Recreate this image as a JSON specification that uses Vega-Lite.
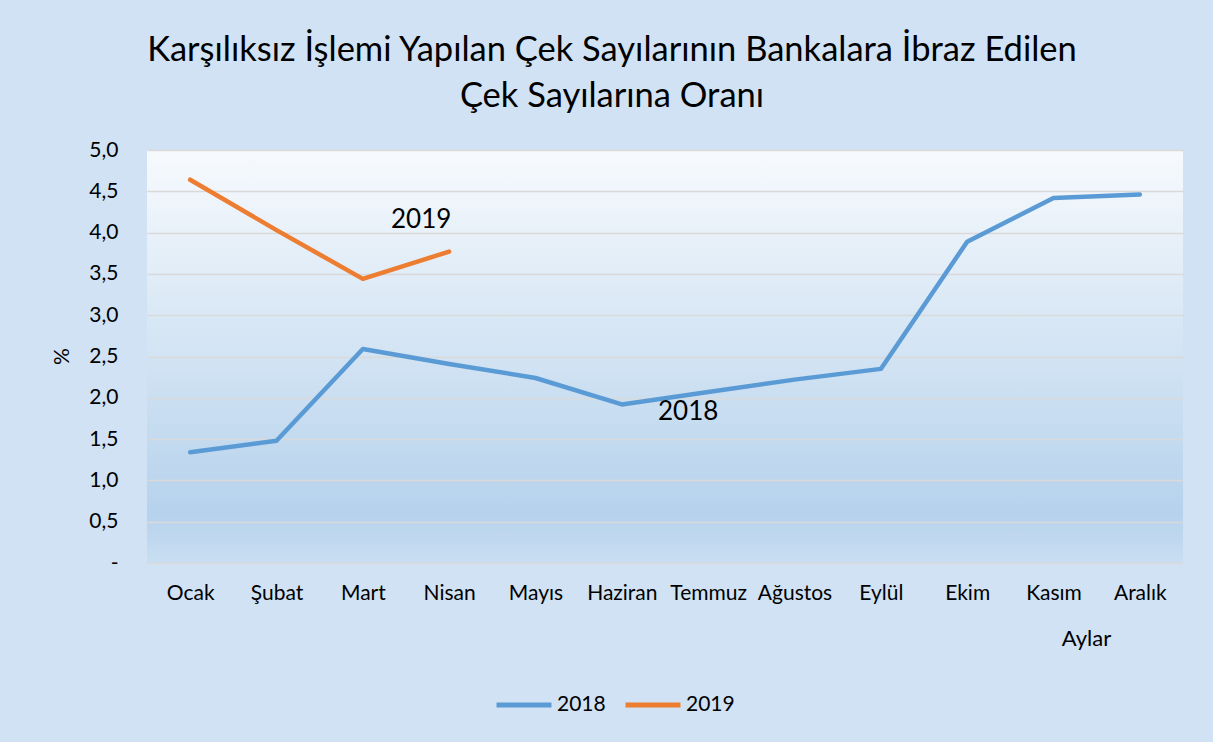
{
  "$schema": "https://vega.github.io/schema/vega-lite/v6.json",
  "autosize": {"type": "none"},
  "width": 1036,
  "height": 413,
  "padding": {"left": 147, "top": 150, "right": 30, "bottom": 179},
  "background": "#D0E2F4",
  "config": {
    "font": "Lato",
    "view": {
      "stroke": null,
      "fill": {
        "gradient": "linear",
        "x1": 0, "y1": 0, "x2": 0, "y2": 1,
        "stops": [
          {"offset": 0, "color": "#F7FAFD"},
          {"offset": 0.88, "color": "#B6D2EC"},
          {"offset": 1, "color": "#C9DEF2"}
        ]
      }
    }
  },
  "title": {
    "text": ["Karşılıksız İşlemi Yapılan Çek Sayılarının Bankalara İbraz Edilen", "Çek Sayılarına Oranı"],
    "anchor": "middle",
    "frame": "group",
    "dx": -53,
    "offset": 25,
    "fontSize": 34.5,
    "fontWeight": "normal",
    "color": "#000000",
    "lineHeight": 46
  },
  "data": {
    "values": [
      {"month": "Ocak", "year": "2018", "value": 1.34},
      {"month": "Şubat", "year": "2018", "value": 1.48},
      {"month": "Mart", "year": "2018", "value": 2.59},
      {"month": "Nisan", "year": "2018", "value": 2.41},
      {"month": "Mayıs", "year": "2018", "value": 2.24},
      {"month": "Haziran", "year": "2018", "value": 1.92},
      {"month": "Temmuz", "year": "2018", "value": 2.07},
      {"month": "Ağustos", "year": "2018", "value": 2.22},
      {"month": "Eylül", "year": "2018", "value": 2.35},
      {"month": "Ekim", "year": "2018", "value": 3.89},
      {"month": "Kasım", "year": "2018", "value": 4.42},
      {"month": "Aralık", "year": "2018", "value": 4.46},
      {"month": "Ocak", "year": "2019", "value": 4.64},
      {"month": "Şubat", "year": "2019", "value": 4.03},
      {"month": "Mart", "year": "2019", "value": 3.44},
      {"month": "Nisan", "year": "2019", "value": 3.77}
    ]
  },
  "layer": [
    {
      "mark": {"type": "line", "strokeWidth": 4.5, "strokeCap": "round", "strokeJoin": "round"},
      "encoding": {
        "x": {
          "field": "month", "type": "ordinal",
          "sort": ["Ocak", "Şubat", "Mart", "Nisan", "Mayıs", "Haziran", "Temmuz", "Ağustos", "Eylül", "Ekim", "Kasım", "Aralık"],
          "scale": {"type": "point", "padding": 0.5},
          "axis": {
            "title": "Aylar",
            "titleX": 939,
            "titleY": 82,
            "titleAlign": "center",
            "titleBaseline": "alphabetic",
            "titleFontSize": 22,
            "titleFontWeight": "normal",
            "titleColor": "#000000",
            "labelAngle": 0,
            "labelFontSize": 21,
            "labelColor": "#000000",
            "labelPadding": 19,
            "domain": false,
            "ticks": false,
            "grid": false
          }
        },
        "y": {
          "field": "value", "type": "quantitative",
          "scale": {"domain": [0, 5], "nice": false},
          "axis": {
            "title": "%",
            "titleX": -85,
            "titleY": 206,
            "titleAngle": -90,
            "titleAlign": "center",
            "titleBaseline": "middle",
            "titleFontSize": 21,
            "titleFontWeight": "normal",
            "titleColor": "#000000",
            "values": [0, 0.5, 1, 1.5, 2, 2.5, 3, 3.5, 4, 4.5, 5],
            "labelExpr": "datum.value == 0 ? '-' : replace(format(datum.value, '.1f'), '.', ',')",
            "labelFontSize": 21,
            "labelColor": "#000000",
            "labelPadding": 29,
            "domain": false,
            "ticks": false,
            "gridColor": "#D9D9D9",
            "gridWidth": 1.5
          }
        },
        "color": {
          "field": "year", "type": "nominal",
          "scale": {"domain": ["2018", "2019"], "range": ["#5B9BD5", "#ED7D31"]},
          "legend": {
            "title": null,
            "orient": "none",
            "direction": "horizontal",
            "legendX": 347,
            "legendY": 525,
            "symbolType": "stroke",
            "symbolSize": 3025,
            "symbolStrokeWidth": 5,
            "labelFontSize": 21,
            "labelColor": "#000000",
            "labelOffset": 3,
            "columnPadding": 9
          }
        }
      }
    },
    {
      "data": {"values": [{"month": "Nisan", "value": 4.15, "label": "2019"}]},
      "mark": {"type": "text", "dx": -28, "fontSize": 26, "baseline": "middle", "align": "center", "color": "#000000"},
      "encoding": {
        "x": {"field": "month", "type": "ordinal", "sort": ["Ocak", "Şubat", "Mart", "Nisan", "Mayıs", "Haziran", "Temmuz", "Ağustos", "Eylül", "Ekim", "Kasım", "Aralık"]},
        "y": {"field": "value", "type": "quantitative"},
        "text": {"field": "label"}
      }
    },
    {
      "data": {"values": [{"month": "Temmuz", "value": 1.83, "label": "2018"}]},
      "mark": {"type": "text", "dx": -20, "fontSize": 26, "baseline": "middle", "align": "center", "color": "#000000"},
      "encoding": {
        "x": {"field": "month", "type": "ordinal", "sort": ["Ocak", "Şubat", "Mart", "Nisan", "Mayıs", "Haziran", "Temmuz", "Ağustos", "Eylül", "Ekim", "Kasım", "Aralık"]},
        "y": {"field": "value", "type": "quantitative"},
        "text": {"field": "label"}
      }
    }
  ]
}
